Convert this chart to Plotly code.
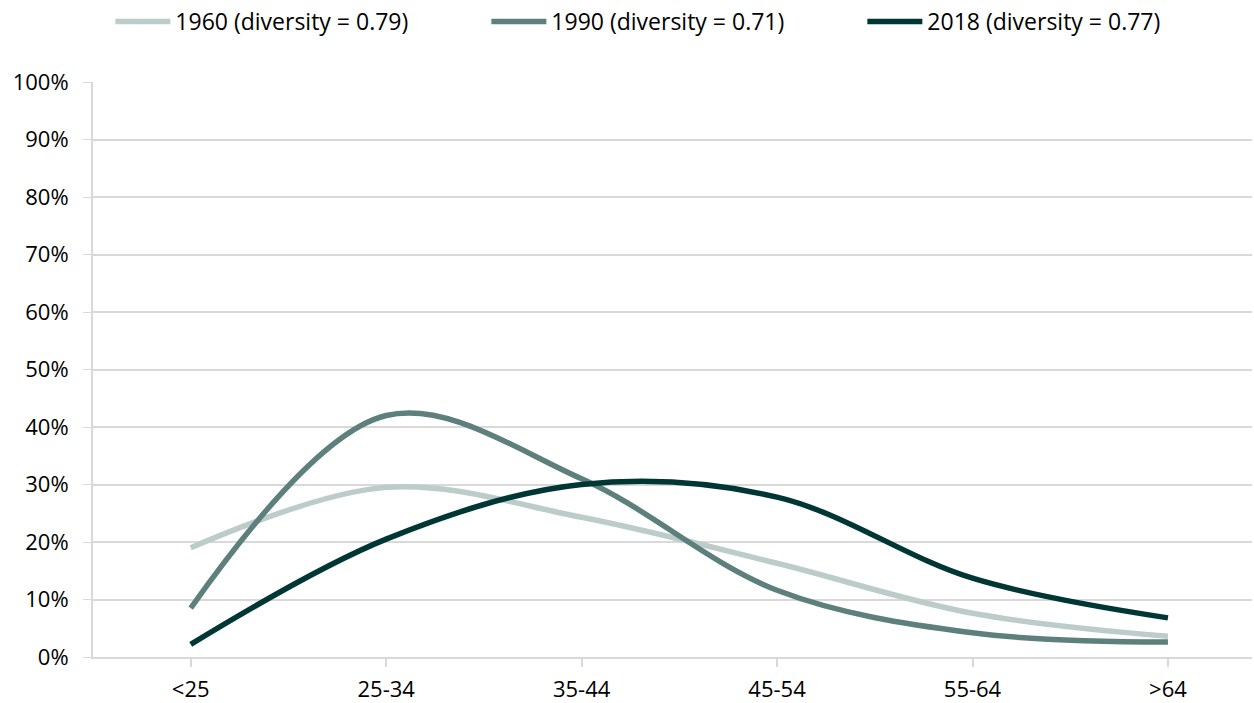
import plotly.graph_objects as go

categories = ["<25", "25-34", "35-44", "45-54", "55-64", ">64"]
series_names = ["1960 (diversity = 0.79)", "1990 (diversity = 0.71)", "2018 (diversity = 0.77)"]
v1960 = [0.19, 0.295, 0.243, 0.163, 0.076, 0.036]
v1990 = [0.085, 0.42, 0.31, 0.116, 0.042, 0.026]
v2018 = [0.022, 0.205, 0.30, 0.278, 0.137, 0.068]
colors = ["#BCCCCA", "#5E807D", "#003634"]
yticks = [0, 0.1, 0.2, 0.3, 0.4, 0.5, 0.6, 0.7, 0.8, 0.9, 1.0]

fig = go.Figure()
for name, vals, c in zip(series_names, [v1960, v1990, v2018], colors):
    fig.add_trace(go.Scatter(
        x=list(range(len(categories))), y=vals, name=name, mode="lines",
        line=dict(color=c, width=5.5, shape="spline", smoothing=1.0),
    ))

fig.update_layout(
    width=1254, height=703,
    margin=dict(l=93, r=2, t=82, b=46, autoexpand=False),
    paper_bgcolor="white", plot_bgcolor="white",
    font=dict(family="Open Sans, Lato, sans-serif", size=22, color="#000000"),
    legend=dict(orientation="h", x=0.088, xanchor="left", y=1.0, yanchor="top",
                xref="container", yref="container", font=dict(size=23), traceorder="normal",
                itemwidth=55, entrywidth=306, entrywidthmode="pixels"),
    showlegend=True,
)
fig.update_xaxes(
    tickmode="array", tickvals=list(range(len(categories))), ticktext=categories,
    range=[-0.5, 5.43], showgrid=False, showline=True, linecolor="#D9D9D9", linewidth=2,
    ticks="outside", ticklen=8, tickcolor="#D9D9D9", tickwidth=2, zeroline=False,
    tickfont=dict(size=22), automargin=False, ticklabelstandoff=4,
)
fig.update_yaxes(
    range=[0, 1.0], tickvals=yticks, tickformat=".0%", showgrid=True, gridcolor="#D9D9D9",
    gridwidth=1.5, showline=True, linecolor="#D9D9D9", linewidth=2, ticks="outside",
    ticklen=8, tickcolor="#D9D9D9", zeroline=False, tickfont=dict(size=22), automargin=False,
    ticklabelstandoff=10,
)
fig.write_html("out.html", post_script="document.body.style.margin='0';",
               config={"displayModeBar": False})
